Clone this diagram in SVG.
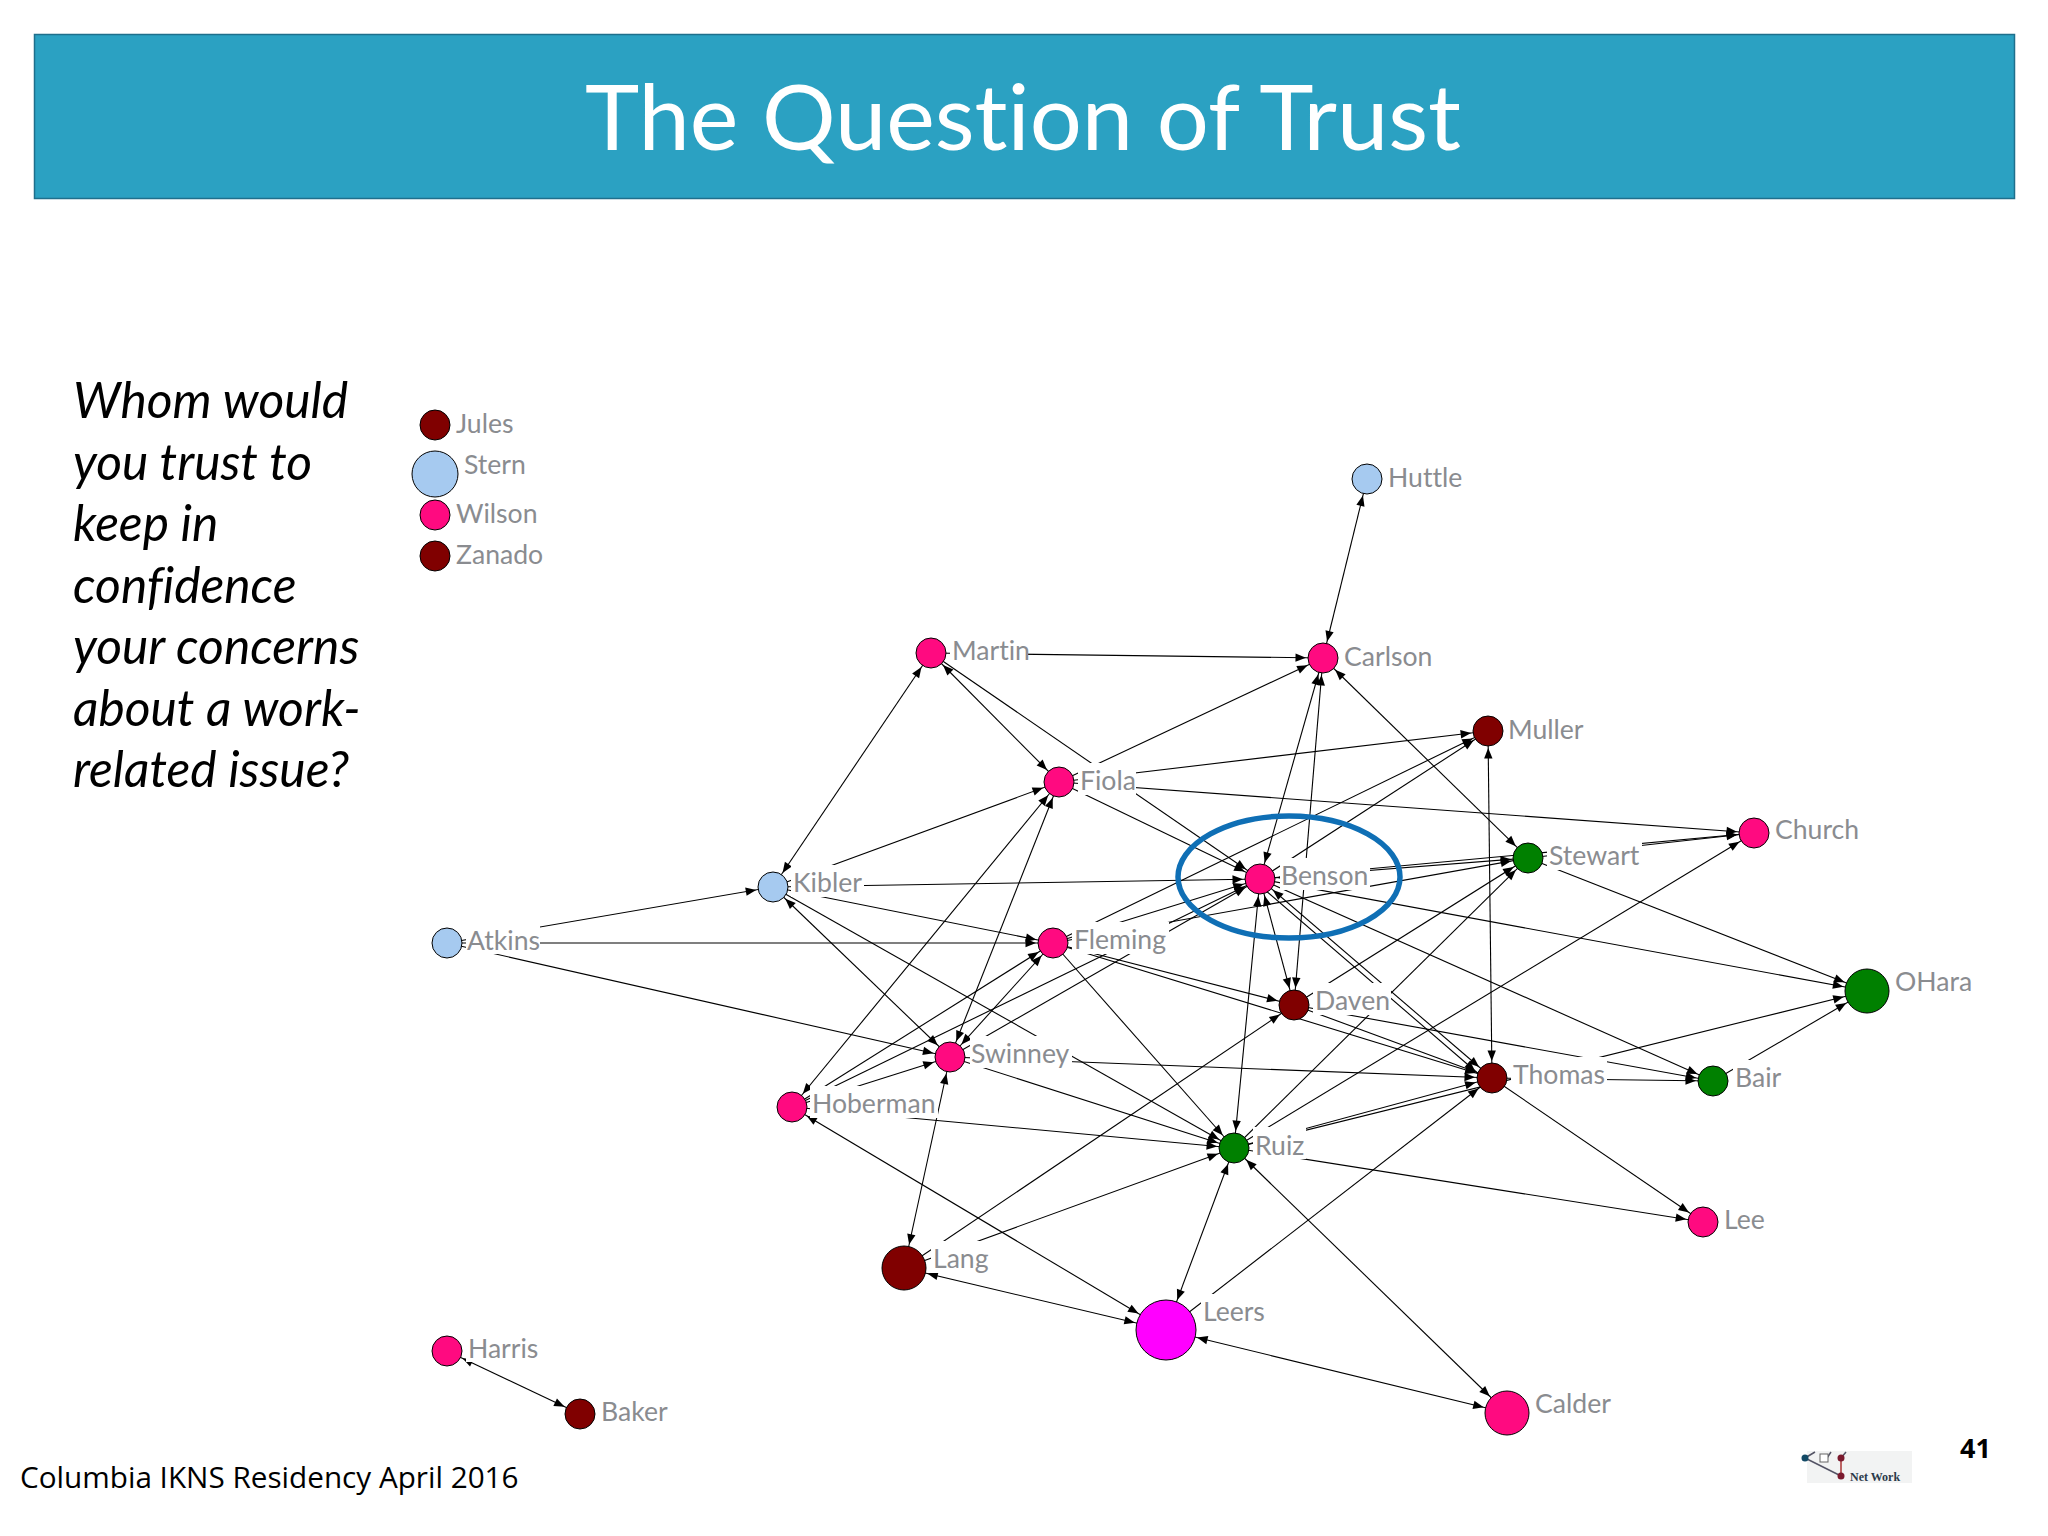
<svg xmlns="http://www.w3.org/2000/svg" width="2048" height="1536" viewBox="0 0 2048 1536">
<style>
text{font-family:"Open Sans","Liberation Sans",sans-serif;font-variant-ligatures:none}
.t{font-family:"Lato","Open Sans",sans-serif;font-size:92px;fill:#fff;text-anchor:middle}
.q{font-family:"Lato","Open Sans",sans-serif;font-size:49.700px;font-style:italic;fill:#000}
.lb{font-family:"Lato","Open Sans",sans-serif;font-size:26.600px;fill:#8a8c90}
.bx{fill:#fff;stroke:none}
.n{stroke:#000;stroke-width:1}
.pk{fill:#ff0a80}.br{fill:#800000}.gr{fill:#008000}.bl{fill:#a6caf0}.mg{fill:#ff00ff}
line{stroke:#000;stroke-width:1.100}
.e15{marker-end:url(#a15)}.e22{marker-end:url(#a22)}.e30{marker-end:url(#a30)}
.s15{marker-start:url(#a15)}.s22{marker-start:url(#a22)}.s30{marker-start:url(#a30)}
</style>
<defs>
<marker id="a15" markerUnits="userSpaceOnUse" markerWidth="12" markerHeight="10" refX="17" refY="0" orient="auto-start-reverse" overflow="visible"><polygon points="0,0 -10.500,-4.200 -10.500,4.200" fill="#000"/></marker>
<marker id="a22" markerUnits="userSpaceOnUse" markerWidth="12" markerHeight="10" refX="24" refY="0" orient="auto-start-reverse" overflow="visible"><polygon points="0,0 -10.500,-4.200 -10.500,4.200" fill="#000"/></marker>
<marker id="a30" markerUnits="userSpaceOnUse" markerWidth="12" markerHeight="10" refX="32" refY="0" orient="auto-start-reverse" overflow="visible"><polygon points="0,0 -10.500,-4.200 -10.500,4.200" fill="#000"/></marker>
</defs>
<rect width="2048" height="1536" fill="#fff"/>
<g id="banner"><rect x="34.500" y="34.500" width="1980" height="164" fill="#2ba1c2" stroke="#1f6f8c" stroke-width="1.500"/>
<text class="t" x="1023" y="150">The Question of Trust</text></g>
<g id="question">
<text class="q" x="73" y="418">Whom would</text>
<text class="q" x="73" y="480">you trust to</text>
<text class="q" x="73" y="541">keep in</text>
<text class="q" x="73" y="603">confidence</text>
<text class="q" x="73" y="664">your concerns</text>
<text class="q" x="73" y="726">about a work-</text>
<text class="q" x="73" y="787">related issue?</text>
</g>
<g id="connectors">
<line x1="1367" y1="479" x2="1323" y2="658" class="e15 s15"/>
<line x1="931" y1="653" x2="1323" y2="658" class="e15"/>
<line x1="931" y1="653" x2="1059" y2="782" class="e15 s15"/>
<line x1="931" y1="653" x2="773" y2="887" class="e15 s15"/>
<line x1="931" y1="653" x2="1260" y2="879" class="e15"/>
<line x1="1059" y1="782" x2="1323" y2="658" class="e15"/>
<line x1="1059" y1="782" x2="1488" y2="731" class="e15"/>
<line x1="1059" y1="782" x2="1754" y2="833" class="e15"/>
<line x1="1059" y1="782" x2="1260" y2="879" class="e15"/>
<line x1="1059" y1="782" x2="950" y2="1057" class="e15 s15"/>
<line x1="1059" y1="782" x2="792" y2="1107" class="e15 s15"/>
<line x1="773" y1="887" x2="1059" y2="782" class="e15"/>
<line x1="773" y1="887" x2="1260" y2="879" class="e15"/>
<line x1="773" y1="887" x2="1053" y2="943" class="e15"/>
<line x1="773" y1="887" x2="950" y2="1057" class="e15 s15"/>
<line x1="773" y1="887" x2="1234" y2="1148" class="e15"/>
<line x1="447" y1="943" x2="773" y2="887" class="e15"/>
<line x1="447" y1="943" x2="1053" y2="943" class="e15"/>
<line x1="447" y1="943" x2="950" y2="1057" class="e15"/>
<line x1="1053" y1="943" x2="1260" y2="879" class="e15"/>
<line x1="1053" y1="943" x2="1488" y2="731" class="e15"/>
<line x1="1053" y1="943" x2="1528" y2="858" class="e15"/>
<line x1="1053" y1="943" x2="1294" y2="1005" class="e15"/>
<line x1="1053" y1="943" x2="1492" y2="1078" class="e15"/>
<line x1="1053" y1="943" x2="1234" y2="1148" class="e15"/>
<line x1="1053" y1="943" x2="950" y2="1057" class="e15 s15"/>
<line x1="950" y1="1057" x2="1260" y2="879" class="e15"/>
<line x1="950" y1="1057" x2="1492" y2="1078" class="e15"/>
<line x1="950" y1="1057" x2="1234" y2="1148" class="e15"/>
<line x1="950" y1="1057" x2="904" y2="1268" class="e22 s15"/>
<line x1="792" y1="1107" x2="1053" y2="943" class="e15"/>
<line x1="792" y1="1107" x2="1260" y2="879" class="e15"/>
<line x1="792" y1="1107" x2="950" y2="1057" class="e15"/>
<line x1="792" y1="1107" x2="1234" y2="1148" class="e15"/>
<line x1="792" y1="1107" x2="1166" y2="1330" class="e30 s15"/>
<line x1="904" y1="1268" x2="1294" y2="1005" class="e15"/>
<line x1="904" y1="1268" x2="1234" y2="1148" class="e15"/>
<line x1="904" y1="1268" x2="1166" y2="1330" class="e30 s22"/>
<line x1="1166" y1="1330" x2="1234" y2="1148" class="e15 s30"/>
<line x1="1166" y1="1330" x2="1492" y2="1078" class="e15"/>
<line x1="1166" y1="1330" x2="1507" y2="1413" class="e22 s30"/>
<line x1="1507" y1="1413" x2="1234" y2="1148" class="e15 s22"/>
<line x1="1234" y1="1148" x2="1703" y2="1222" class="e15"/>
<line x1="1234" y1="1148" x2="1528" y2="858" class="e15"/>
<line x1="1234" y1="1148" x2="1754" y2="833" class="e15"/>
<line x1="1234" y1="1148" x2="1260" y2="879" class="e15 s15"/>
<line x1="1234" y1="1148" x2="1492" y2="1078" class="e15"/>
<line x1="1234" y1="1148" x2="1867" y2="991" class="e22"/>
<line x1="1294" y1="1005" x2="1528" y2="858" class="e15"/>
<line x1="1294" y1="1005" x2="1492" y2="1078" class="e15"/>
<line x1="1294" y1="1005" x2="1713" y2="1081" class="e15"/>
<line x1="1260" y1="879" x2="1294" y2="1005" class="e15 s15"/>
<line x1="1323" y1="658" x2="1294" y2="1005" class="e15 s15"/>
<line x1="1323" y1="658" x2="1260" y2="879" class="e15 s15"/>
<line x1="1260" y1="879" x2="1488" y2="731" class="e15"/>
<line x1="1260" y1="879" x2="1528" y2="858" class="e15 s15"/>
<line x1="1260" y1="879" x2="1754" y2="833" class="e15"/>
<line x1="1260" y1="879" x2="1492" y2="1078" class="e15 s15"/>
<line x1="1257" y1="883" x2="1488" y2="1082" class="e15"/>
<line x1="1260" y1="879" x2="1713" y2="1081" class="e15"/>
<line x1="1260" y1="879" x2="1867" y2="991" class="e22"/>
<line x1="1488" y1="731" x2="1492" y2="1078" class="e15 s15"/>
<line x1="1492" y1="1078" x2="1703" y2="1222" class="e15"/>
<line x1="1492" y1="1078" x2="1713" y2="1081" class="e15"/>
<line x1="1713" y1="1081" x2="1867" y2="991" class="e22"/>
<line x1="1528" y1="858" x2="1867" y2="991" class="e22"/>
<line x1="1528" y1="858" x2="1323" y2="658" class="e15 s15"/>
<line x1="1528" y1="858" x2="1754" y2="833" class="e15"/>
<line x1="447" y1="1351" x2="580" y2="1414" class="e15 s15"/>
</g>
<g id="n-jules"><rect class="bx" x="454" y="406" width="66" height="32"/><circle class="n br" cx="435" cy="425" r="15"/><text class="lb" x="456" y="433">Jules</text></g>
<g id="n-stern"><rect class="bx" x="462" y="447" width="68" height="32"/><circle class="n bl" cx="435" cy="474" r="23"/><text class="lb" x="464" y="474">Stern</text></g>
<g id="n-wilson"><rect class="bx" x="454" y="496" width="80" height="32"/><circle class="n pk" cx="435" cy="515" r="15"/><text class="lb" x="456" y="523">Wilson</text></g>
<g id="n-zanado"><rect class="bx" x="454" y="537" width="92" height="32"/><circle class="n br" cx="435" cy="556" r="15"/><text class="lb" x="456" y="564">Zanado</text></g>
<g id="n-huttle"><rect class="bx" x="1386" y="460" width="74" height="32"/><circle class="n bl" cx="1367" cy="479" r="15"/><text class="lb" x="1388" y="487">Huttle</text></g>
<g id="n-martin"><rect class="bx" x="950" y="633" width="78" height="32"/><circle class="n pk" cx="931" cy="653" r="15"/><text class="lb" x="952" y="660">Martin</text></g>
<g id="n-carlson"><rect class="bx" x="1342" y="639" width="90" height="32"/><circle class="n pk" cx="1323" cy="658" r="15"/><text class="lb" x="1344" y="666">Carlson</text></g>
<g id="n-muller"><rect class="bx" x="1506" y="712" width="75" height="32"/><circle class="n br" cx="1488" cy="731" r="15"/><text class="lb" x="1508" y="739">Muller</text></g>
<g id="n-fiola"><rect class="bx" x="1078" y="763" width="58" height="32"/><circle class="n pk" cx="1059" cy="782" r="15"/><text class="lb" x="1080" y="790">Fiola</text></g>
<g id="n-church"><rect class="bx" x="1773" y="812" width="87" height="32"/><circle class="n pk" cx="1754" cy="833" r="15"/><text class="lb" x="1775" y="839">Church</text></g>
<g id="n-stewart"><rect class="bx" x="1547" y="838" width="95" height="32"/><circle class="n gr" cx="1528" cy="858" r="15"/><text class="lb" x="1549" y="865">Stewart</text></g>
<g id="n-benson"><rect class="bx" x="1280" y="858" width="90" height="32"/><circle class="n pk" cx="1260" cy="879" r="15"/><text class="lb" x="1281" y="885">Benson</text></g>
<g id="n-kibler"><rect class="bx" x="791" y="865" width="73" height="32"/><circle class="n bl" cx="773" cy="887" r="15"/><text class="lb" x="793" y="892">Kibler</text></g>
<g id="n-atkins"><rect class="bx" x="466" y="922" width="74" height="32"/><circle class="n bl" cx="447" cy="943" r="15"/><text class="lb" x="467" y="950">Atkins</text></g>
<g id="n-fleming"><rect class="bx" x="1072" y="922" width="97" height="32"/><circle class="n pk" cx="1053" cy="943" r="15"/><text class="lb" x="1074" y="949">Fleming</text></g>
<g id="n-daven"><rect class="bx" x="1313" y="983" width="78" height="32"/><circle class="n br" cx="1294" cy="1005" r="15"/><text class="lb" x="1315" y="1010">Daven</text></g>
<g id="n-ohara"><rect class="bx" x="1893" y="964" width="77" height="32"/><circle class="n gr" cx="1867" cy="991" r="22"/><text class="lb" x="1895" y="991">OHara</text></g>
<g id="n-swinney"><rect class="bx" x="970" y="1036" width="102" height="32"/><circle class="n pk" cx="950" cy="1057" r="15"/><text class="lb" x="971" y="1063">Swinney</text></g>
<g id="n-thomas"><rect class="bx" x="1511" y="1057" width="96" height="32"/><circle class="n br" cx="1492" cy="1078" r="15"/><text class="lb" x="1513" y="1084">Thomas</text></g>
<g id="n-bair"><rect class="bx" x="1733" y="1060" width="50" height="32"/><circle class="n gr" cx="1713" cy="1081" r="15"/><text class="lb" x="1735" y="1087">Bair</text></g>
<g id="n-hoberman"><rect class="bx" x="810" y="1086" width="128" height="32"/><circle class="n pk" cx="792" cy="1107" r="15"/><text class="lb" x="812" y="1113">Hoberman</text></g>
<g id="n-ruiz"><rect class="bx" x="1253" y="1127" width="53" height="32"/><circle class="n gr" cx="1234" cy="1148" r="15"/><text class="lb" x="1255" y="1155">Ruiz</text></g>
<g id="n-lee"><rect class="bx" x="1722" y="1202" width="44" height="32"/><circle class="n pk" cx="1703" cy="1222" r="15"/><text class="lb" x="1724" y="1229">Lee</text></g>
<g id="n-lang"><rect class="bx" x="931" y="1241" width="59" height="32"/><circle class="n br" cx="904" cy="1268" r="22"/><text class="lb" x="933" y="1268">Lang</text></g>
<g id="n-leers"><rect class="bx" x="1201" y="1294" width="65" height="32"/><circle class="n mg" cx="1166" cy="1330" r="30"/><text class="lb" x="1203" y="1321">Leers</text></g>
<g id="n-calder"><rect class="bx" x="1533" y="1386" width="80" height="32"/><circle class="n pk" cx="1507" cy="1413" r="22"/><text class="lb" x="1535" y="1413">Calder</text></g>
<g id="n-harris"><rect class="bx" x="466" y="1331" width="74" height="31"/><circle class="n pk" cx="447" cy="1351" r="15"/><text class="lb" x="468" y="1358">Harris</text></g>
<g id="n-baker"><rect class="bx" x="599" y="1394" width="70" height="32"/><circle class="n br" cx="580" cy="1414" r="15"/><text class="lb" x="601" y="1421">Baker</text></g>
<ellipse id="highlight" cx="1289" cy="877" rx="111" ry="61" fill="none" stroke="#0f6fb5" stroke-width="5.500"/>
<text x="20" y="1488" font-size="29.700" fill="#000">Columbia IKNS Residency April 2016</text>
<text x="1960" y="1458" font-size="27" font-weight="700" fill="#000">41</text>
<g id="logo">
<rect x="1807" y="1451" width="105" height="32" fill="#f2f3f3"/>
<path d="M1805 1458L1815 1452M1805 1458L1841 1476M1827 1458L1831 1452M1841 1458L1846 1452" fill="none" stroke="#556" stroke-width="1.500"/>
<path d="M1841 1458V1476" stroke="#a33" stroke-width="1.500"/>
<rect x="1820" y="1454" width="8" height="8" fill="#fff" stroke="#666"/>
<circle cx="1805" cy="1458" r="3.500" fill="#134a66"/>
<circle cx="1841" cy="1458" r="3.500" fill="#7a1a2e"/>
<circle cx="1841" cy="1476" r="3.500" fill="#7a1a2e"/>
<text x="1850" y="1481" font-size="12" font-weight="700" style="font-family:'Liberation Serif',serif" fill="#2b3a4a">Net Work</text>
</g>
</svg>
